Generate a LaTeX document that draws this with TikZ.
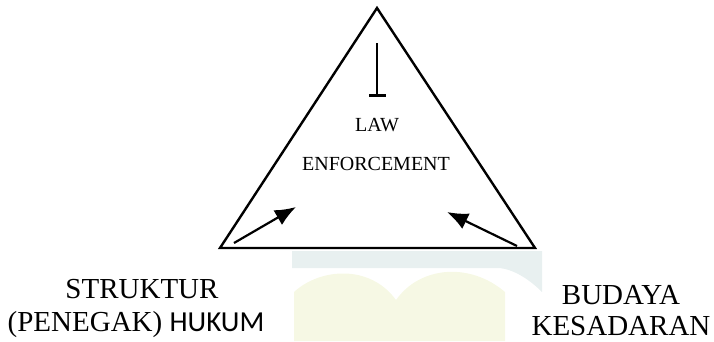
\documentclass[tikz,border=0pt]{standalone}
\usepackage{fontspec}
\setmainfont{Liberation Serif}
\newfontfamily\hukumfont{Carlito}
\usetikzlibrary{arrows.meta}
\definecolor{markblue}{RGB}{232,240,240}
\definecolor{markleaf}{RGB}{246,248,228}
\tikzset{
  side/.style={line width=2.4pt,line join=miter},
  push/.style={line width=2.2pt,-{Latex[length=21pt,width=17pt]}},
  halt/.style={line width=1.6pt,-{Bar[width=17pt,line width=3.4pt]}},
  inner/.style={font=\fontsize{20}{24}\selectfont,anchor=base,inner sep=0pt},
  outer/.style={font=\fontsize{29}{34}\selectfont,anchor=base,inner sep=0pt},
}
\begin{document}
\begin{tikzpicture}[x=1pt,y=-1pt]
    \useasboundingbox (0,0) rectangle (714,341);
    % faint watermark below the triangle
    \fill[markblue] (292,251) -- (542,251) -- (542,292) .. controls (530,280) and (515,270) .. (500,268)
        -- (292,268) -- cycle;
    \fill[markleaf] (294,341) -- (294,292) .. controls (320,268) and (370,264) .. (396,300)
        .. controls (420,266) and (470,262) .. (505,292) -- (505,341) -- cycle;
    % corners
    \draw (377,8) coordinate (top);
    \draw (220,248) coordinate (left);
    \draw (535,248) coordinate (right);
    \draw[side] (top) -- (left) -- (right) -- cycle;
    % arrow ends
    \draw (377,43) coordinate (stem);
    \draw (377,97) coordinate (stemend);
    \draw (234,243) coordinate (leftfoot);
    \draw (296,207) coordinate (lefthead);
    \draw (517,246) coordinate (rightfoot);
    \draw (447,212) coordinate (righthead);
    \draw[halt] (stem) -- (stemend);
    \draw[push] (leftfoot) -- (lefthead);
    \draw[push] (rightfoot) -- (righthead);
    % labels
    \node[inner] (law) at (377,131) {LAW};
    \node[inner] (enforce) at (376,170) {ENFORCEMENT};
    \node[outer] (struktur) at (142,298) {STRUKTUR};
    \node[outer] (penegak) at (136,331) {(PENEGAK) {\hukumfont HUKUM}};
    \node[outer] (budaya) at (621,304) {BUDAYA};
    \node[outer] (kesadaran) at (621,335) {KESADARAN};
\end{tikzpicture}
\end{document}
